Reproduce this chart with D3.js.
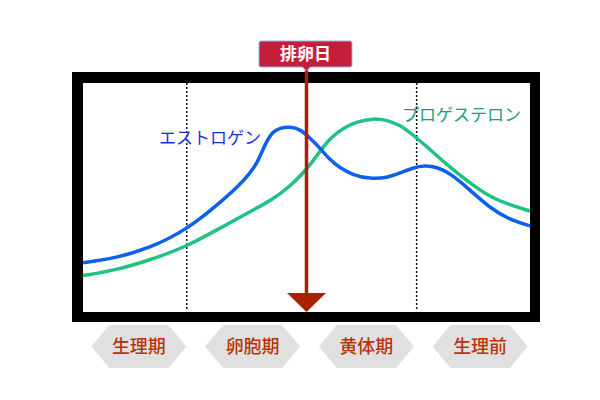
<!DOCTYPE html>
<html>
<head>
<meta charset="utf-8">
<script src="https://cdn.jsdelivr.net/npm/d3@7"></script>
<style>
  html, body { margin: 0; padding: 0; background: #fff; }
  svg { display: block; }
  text { font-family: "Noto Sans CJK JP", "Noto Sans", sans-serif; }
</style>
</head>
<body>
<svg id="chart" width="600" height="400"></svg>
<script>
// ---- data ----
const estrogenDays   = [0, 2.07, 4.2, 6.45, 8.3, 9.83, 10.46, 10.9, 11.21, 11.53, 11.84, 12.34, 12.97, 13.59, 14.22, 14.85, 15.47, 16.1, 16.91, 17.98, 19.04, 19.86, 20.67, 21.42, 22.17, 22.99, 24.24, 25.49, 26.75, 28];
const estrogenLevels = [21.5, 23.6, 27.9, 35.8, 46.0, 55.5, 60.7, 65.0, 70.0, 74.8, 78.4, 80.5, 80.9, 79.9, 76.0, 71.6, 66.4, 62.9, 59.8, 58.1, 58.6, 60.7, 63.0, 64.0, 63.3, 60.7, 53.3, 45.4, 40.2, 37.6];
const progesteroneDays   = [0, 2.07, 4.2, 6.45, 8.14, 10.46, 11.9, 12.97, 13.78, 14.22, 14.85, 15.47, 16.29, 17.16, 18.17, 19.04, 19.86, 20.67, 21.55, 22.8, 24.24, 25.49, 26.75, 28];
const progesteroneLevels = [15.9, 18.3, 22.7, 28.5, 34.9, 43.8, 49.2, 54.9, 60.6, 64.3, 70.2, 75.8, 80.3, 83.1, 84.6, 83.8, 81.7, 77.3, 72.2, 64.2, 56.3, 50.2, 46.7, 44.1];
const seriesNames = ["エストロゲン", "プロゲステロン"];
const phases = ["生理期", "卵胞期", "黄体期", "生理前"];
const phaseBoundaries = [6.5, 20.9];
const ovulationDay = 14;
const ovulationLabel = "排卵日";

// ---- layout ----
const svg = d3.select("#chart");
const inner = { x0: 83, x1: 530, y0: 83, y1: 312 };
const x = d3.scaleLinear().domain([0, 28]).range([inner.x0, inner.x1]);
const y = d3.scaleLinear().domain([0, 100]).range([inner.y1, inner.y0]);

// frame
svg.append("rect").attr("x", 72).attr("y", 72).attr("width", 468).attr("height", 250).attr("fill", "#000");
svg.append("rect").attr("x", inner.x0).attr("y", inner.y0)
  .attr("width", inner.x1 - inner.x0).attr("height", inner.y1 - inner.y0).attr("fill", "#fff");

// phase boundaries
svg.selectAll("line.phase").data(phaseBoundaries).join("line")
  .attr("class", "phase")
  .attr("x1", d => x(d)).attr("x2", d => x(d))
  .attr("y1", inner.y0).attr("y2", 310)
  .attr("stroke", "#111").attr("stroke-width", 1.5).attr("stroke-dasharray", "2,2");

// curves
const line = d3.line().x(d => x(d[0])).y(d => y(d[1])).curve(d3.curveBasis);
const estrogen = estrogenDays.map((d, i) => [d, estrogenLevels[i]]);
const progesterone = progesteroneDays.map((d, i) => [d, progesteroneLevels[i]]);

svg.append("path").datum(progesterone).attr("d", line)
  .attr("fill", "none").attr("stroke", "#20c27f").attr("stroke-width", 3.5);
svg.append("path").datum(estrogen).attr("d", line)
  .attr("fill", "none").attr("stroke", "#0d60ec").attr("stroke-width", 3.5);

// series labels
svg.append("text").attr("x", 159).attr("y", 144).text(seriesNames[0])
  .attr("font-size", 17).attr("fill", "#1a2ee0");
svg.append("text").attr("x", 402).attr("y", 121).text(seriesNames[1])
  .attr("font-size", 17).attr("fill", "#12a082");

// ovulation arrow
const ox = x(ovulationDay);
svg.append("line").attr("x1", ox).attr("x2", ox).attr("y1", 68).attr("y2", 295)
  .attr("stroke", "#a82200").attr("stroke-width", 3.5);
svg.append("path")
  .attr("d", `M${ox - 19.5},293 L${ox + 19.5},293 L${ox},312 Z`)
  .attr("fill", "#a82200");

// ovulation label callout
const bx0 = 259, bx1 = 352, by0 = 41, by1 = 67;
svg.append("path")
  .attr("d", `M${bx0 + 2},${by0} L${bx1 - 2},${by0} Q${bx1},${by0} ${bx1},${by0 + 2} L${bx1},${by1 - 2} Q${bx1},${by1} ${bx1 - 2},${by1}
             L${ox + 4},${by1} L${ox},${by1 + 4} L${ox - 4},${by1} L${bx0 + 2},${by1} Q${bx0},${by1} ${bx0},${by1 - 2}
             L${bx0},${by0 + 2} Q${bx0},${by0} ${bx0 + 2},${by0} Z`)
  .attr("fill", "#c41e3a").attr("stroke", "#8fb8e8").attr("stroke-width", 1);
svg.append("text").attr("x", (bx0 + bx1) / 2).attr("y", 60)
  .attr("text-anchor", "middle").attr("font-size", 17).attr("font-weight", "bold")
  .attr("fill", "#fff").text(ovulationLabel);

// phase hexagons
const band = d3.scaleBand().domain(phases).range([82, 537]);
const hw = 47.5, hh = 21.5, ind = 18, cy = 346.5;
const g = svg.selectAll("g.hex").data(phases).join("g")
  .attr("class", "hex")
  .attr("transform", d => `translate(${band(d) + band.bandwidth() / 2},${cy})`);
g.append("path")
  .attr("d", `M${-hw},0 L${-hw + ind},${-hh} L${hw - ind},${-hh} L${hw},0 L${hw - ind},${hh} L${-hw + ind},${hh} Z`)
  .attr("fill", "#e0e0e0");
g.append("text").attr("text-anchor", "middle").attr("y", 6.5)
  .attr("font-size", 18).attr("font-weight", 500).attr("fill", "#b8340a").text(d => d);
</script>
</body>
</html>
